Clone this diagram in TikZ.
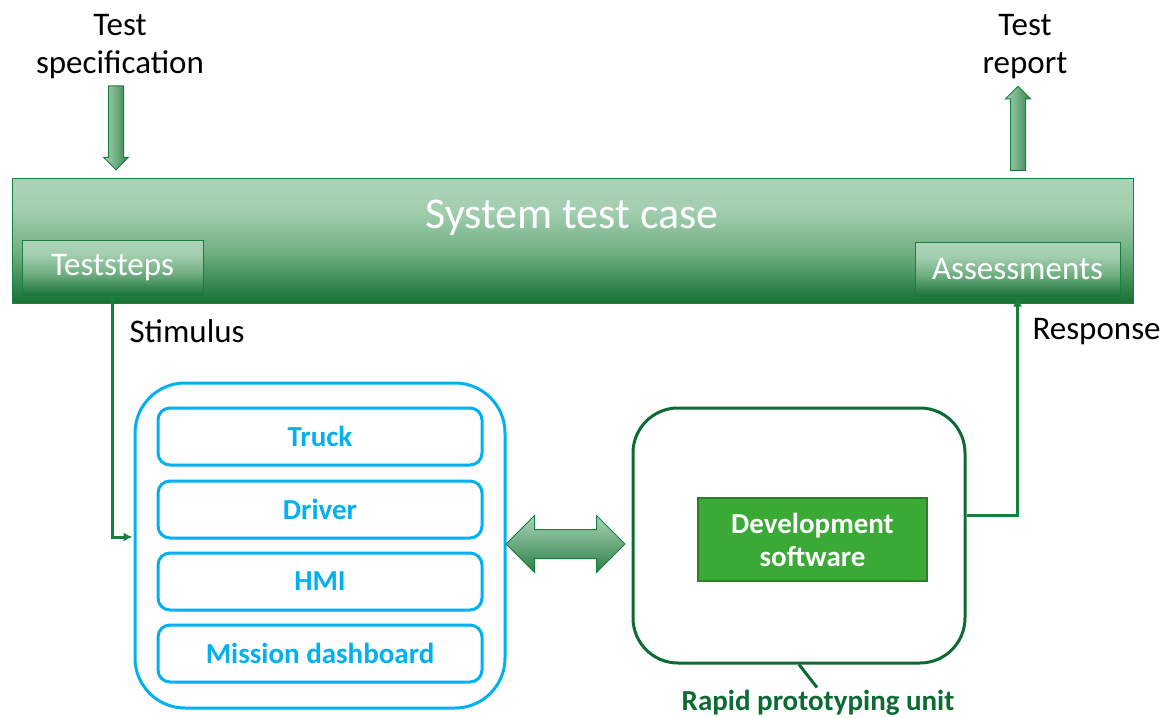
\documentclass[tikz,border=0pt]{standalone}
\usepackage{fontspec}
\setmainfont{Carlito}
\usetikzlibrary{shapes.arrows,arrows.meta,positioning,calc}

\definecolor{tcLight}{HTML}{ABD4B6}
\definecolor{tcMid}{HTML}{6FAE82}
\definecolor{tcDark}{HTML}{1B7338}
\definecolor{tcLine}{HTML}{17803F}
\definecolor{rpuGreen}{HTML}{0B6B33}
\definecolor{simBlue}{HTML}{00B0F0}
\definecolor{devGreen}{HTML}{3AA935}

% shading of the test case boxes: light top, dark bottom
\pgfdeclareverticalshading{caseshade}{100bp}{%
  color(0bp)=(tcDark); color(26bp)=(tcDark); color(45bp)=(tcMid);
  color(62bp)=(tcLight!85!tcMid); color(75bp)=(tcLight); color(100bp)=(tcLight)}
\pgfdeclarehorizontalshading{arrowshade}{100bp}{%
  color(0bp)=(tcLight); color(25bp)=(tcLight); color(75bp)=(tcDark!70!tcMid); color(100bp)=(tcDark!70!tcMid)}
\pgfdeclareverticalshading{linkshade}{100bp}{%
  color(0bp)=(tcDark!80!tcMid); color(25bp)=(tcDark!80!tcMid); color(75bp)=(tcLight); color(100bp)=(tcLight)}

\tikzset{
  casebox/.style={draw=tcLine, line width=1pt, shading=caseshade, inner sep=0pt},
  stepbox/.style={casebox, text=white, font=\fontsize{33}{36}\selectfont},
  simbox/.style={draw=simBlue, line width=3pt, rounded corners=12pt,
    minimum width=324pt, minimum height=57pt, text=simBlue,
    font=\bfseries\fontsize{29}{32}\selectfont},
  blockarrow/.style={draw=tcLine, line width=1pt, shading=arrowshade},
  flow/.style={draw=tcLine, line width=3pt, -{Latex[length=9pt,width=9pt]}},
  plain/.style={font=\fontsize{33}{38}\selectfont, align=center}
}

\begin{document}
\begin{tikzpicture}[x=1pt, y=-1pt]
\useasboundingbox (0,0) rectangle (1168,718);
% ------------------------------------------------- test case
\node [casebox, minimum width=1121pt, minimum height=125pt] (case) at (572.5,240.5) {};
\node [text=white, font=\fontsize{44}{48}\selectfont] (title) at (572,218) {System test case};
\node [stepbox, minimum width=181pt, minimum height=56pt] (steps) at (112.5,268) {Teststeps};
\node [stepbox, minimum width=205pt, minimum height=55pt] (assess) at (1017.5,269.5) {Assessments};

% in and out of the test case
\node [plain] (spec) at (120,47) {Test\\specification};
\node [plain] (report) at (1025,47) {Test\\report};
\node [blockarrow, single arrow, shape border rotate=270, inner sep=7pt,
  minimum height=84pt, single arrow head extend=5pt] (specarrow) at (116,124) {};
\node [blockarrow, single arrow, shape border rotate=90, inner sep=7pt,
  minimum height=84pt, single arrow head extend=5pt] (reportarrow) at (1018,132) {};

% ------------------------------------------------- simulation
\node [draw=simBlue, line width=3pt, rounded corners=50pt,
  minimum width=370pt, minimum height=325pt] (sim) at (320,545.5) {};
\node [simbox] (truck) at (320,436.5) {Truck};
\node [simbox] (driver) at (320,509.5) {Driver};
\node [simbox] (hmi) at (320,581.5) {HMI};
\node [simbox] (mission) at (320,653.5) {Mission dashboard};

% ------------------------------------------------- rapid prototyping unit
\node [draw=rpuGreen, line width=3pt, rounded corners=45pt,
  minimum width=332pt, minimum height=255pt] (rpu) at (799,535.5) {};
\node [fill=devGreen, draw=devGreen!75!black, line width=2pt, text=white,
  minimum width=229pt, minimum height=83pt, align=center,
  font=\bfseries\fontsize{29}{33}\selectfont] (dev) at (812.5,539.5) {Development\\software};
\node [text=rpuGreen, font=\bfseries\fontsize{29}{32}\selectfont] (rpulabel) at (818,703)
  {Rapid prototyping unit};
\draw [rpuGreen, line width=3pt] (rpu.south) -- ++(18,23);

\node [blockarrow, shading=linkshade, double arrow, inner sep=14pt, minimum height=119pt,
  double arrow head extend=14pt] (link) at (565.5,544) {};

% ------------------------------------------------- connectors
\draw [flow] (steps.south) |- ($(sim.west)+(-1,-8.5)$);
\draw [flow] ($(rpu.east)+(0,-20)$) -| (assess.south);
\node [plain, anchor=west] (stimlabel) at (126,331) {Stimulus};
\node [plain, anchor=west] (resplabel) at (1029,332) {Response};
\end{tikzpicture}
\end{document}
